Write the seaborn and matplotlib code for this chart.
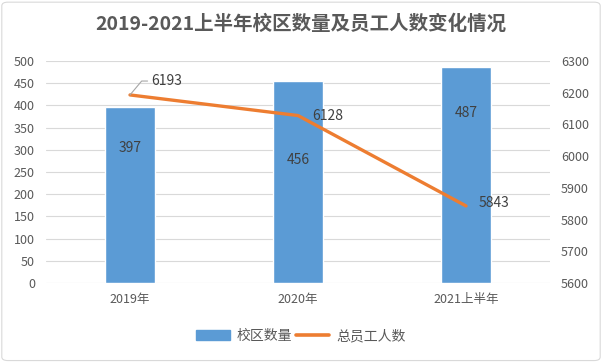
import matplotlib
matplotlib.use('Agg')
import matplotlib.pyplot as plt
import seaborn as sns
from matplotlib.patches import FancyBboxPatch, Patch
from matplotlib.lines import Line2D

# data
periods = ['2019年', '2020年', '2021上半年']
campus_count = [397, 456, 487]
staff_count = [6193, 6128, 5843]
# where the bar labels sit (data units on left axis)
bar_label_y = [305, 278, 382]

bar_color = '#5B9BD5'
line_color = '#ED7D31'
text_color = '#595959'

sns.set_theme(style='white')
plt.rcParams['font.family'] = ['Noto Sans CJK SC', 'DejaVu Sans']

fig = plt.figure(figsize=(6.02, 3.62), dpi=100)
ax = fig.add_axes([46 / 602, 1 - 283 / 362, 504 / 602, 222 / 362])

sns.barplot(x=periods, y=campus_count, color=bar_color, width=0.3, ax=ax,
            saturation=1, zorder=2)
ax.set_ylim(0, 500)
ax.set_yticks(range(0, 501, 50))
ax.set_xlim(-0.5, 2.5)
ax.grid(axis='y', color='#D9D9D9', linewidth=0.8, zorder=0)
ax.set_axisbelow(True)
for s in ax.spines.values():
    s.set_visible(False)
ax.tick_params(axis='both', length=0, labelsize=9, labelcolor=text_color)
ax.tick_params(axis='x', pad=7)
ax.tick_params(axis='y', pad=8)
ax.set_xlabel('')
ax.set_ylabel('')

for i, (v, ly) in enumerate(zip(campus_count, bar_label_y)):
    ax.text(i, ly, str(v), ha='center', va='center', fontsize=10, color='#404040')

ax2 = ax.twinx()
sns.lineplot(x=[0, 1, 2], y=staff_count, color=line_color, linewidth=2.4, ax=ax2,
             solid_capstyle='round')
ax2.set_ylim(5600, 6300)
ax2.set_yticks(range(5600, 6301, 100))
ax2.set_xlim(-0.5, 2.5)
for s in ax2.spines.values():
    s.set_visible(False)
ax2.tick_params(axis='y', length=0, labelsize=9, labelcolor=text_color, pad=8)
ax2.set_ylabel('')

ax2.annotate(str(staff_count[0]), xy=(0, staff_count[0]), xytext=(15, 10),
             textcoords='offset points', ha='left', va='center', fontsize=10,
             color='#404040',
             arrowprops=dict(arrowstyle='-', color='#A6A6A6', lw=0.8,
                             shrinkA=0, shrinkB=0, relpos=(0, 0.5),
                             connectionstyle='angle,angleA=0,angleB=50,rad=0'))
ax2.annotate(str(staff_count[1]), xy=(1, staff_count[1]), xytext=(10, 0),
             textcoords='offset points', ha='left', va='center', fontsize=10,
             color='#404040')
ax2.annotate(str(staff_count[2]), xy=(2, staff_count[2]), xytext=(9, 2),
             textcoords='offset points', ha='left', va='center', fontsize=10,
             color='#404040')

fig.text(0.5, 1 - 24 / 362, '2019-2021上半年校区数量及员工人数变化情况',
         ha='center', va='center', fontsize=14, fontweight='bold', color=text_color)

handles = [Patch(color=bar_color), Line2D([0], [0], color=line_color, linewidth=2.6)]
fig.legend(handles, ['校区数量', '总员工人数'], loc='center', ncol=2,
           bbox_to_anchor=(0.5, 1 - 336 / 362), frameon=False, fontsize=10,
           labelcolor=text_color, handlelength=2.4, columnspacing=0.3,
           handletextpad=0.5)

frame = FancyBboxPatch((0.003, 0.004), 0.994, 0.99, boxstyle='round,pad=0,rounding_size=0.01',
                       transform=fig.transFigure, facecolor='none', edgecolor='#D9D9D9',
                       linewidth=0.8)
fig.patches.append(frame)

fig.savefig('out.png', dpi=100)
